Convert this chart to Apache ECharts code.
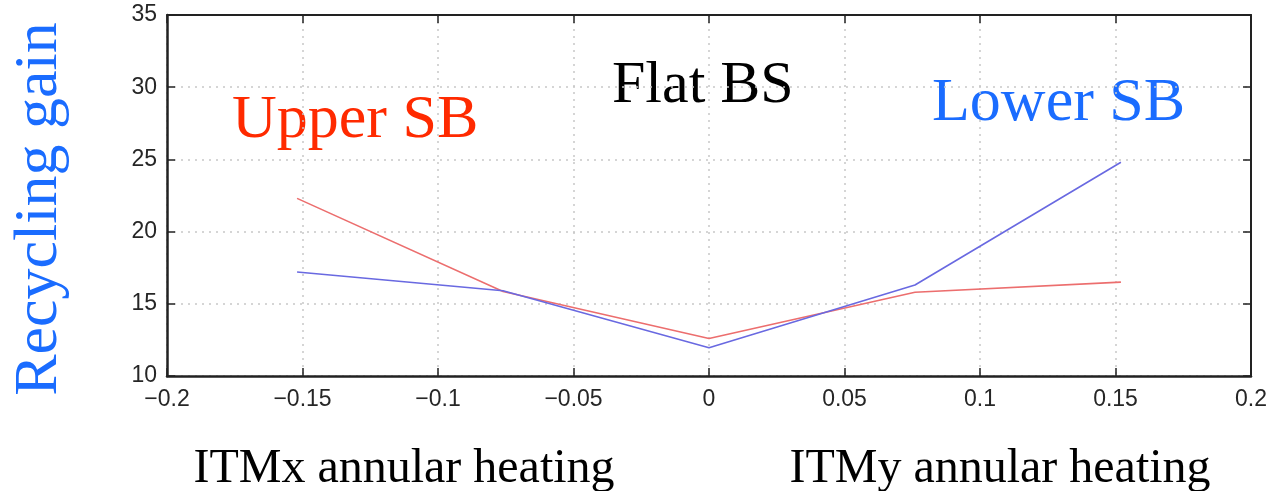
<!DOCTYPE html>
<html>
<head>
<meta charset="utf-8">
<script src="https://cdn.jsdelivr.net/npm/echarts@6/dist/echarts.min.js"></script>
<style>
  html, body { margin: 0; padding: 0; background: #fff; }
  #chart { width: 1270px; height: 491px; }
</style>
</head>
<body>
<div id="chart"></div>
<script>
// Heating offsets (x) at which the recycling gain was evaluated
const heating = [-0.152, -0.076, 0, 0.076, 0.152];
// Recycling gain for each sideband
const upperSB = [22.3, 15.85, 12.6, 15.8, 16.5];
const lowerSB = [17.2, 15.9, 11.95, 16.3, 24.8];
// Axis ranges and tick steps
const xRange = [-0.2, 0.2], xStep = 0.05;
const yRange = [10, 35], yStep = 5;

const serif = '"Liberation Serif", "Times New Roman", serif';
const sans = '"Liberation Sans", Arial, sans-serif';

const pairs = (ys) => heating.map((x, i) => [x, ys[i]]);
const fmtTick = (v) => {
  const s = (Math.round(v * 1000) / 1000).toString();
  return s.replace('-', '\u2212');
};

const frameLine = { show: true, onZero: false, lineStyle: { color: '#222', width: 2.5 } };
const frameTick = { show: true, inside: true, length: 8, lineStyle: { color: '#222', width: 1.5 } };
const gridLine = { show: true, lineStyle: { color: '#c8c8c8', type: [2, 5], width: 1.5 } };
const tickFont = { color: '#262626', fontFamily: sans, fontSize: 23 };

const chart = echarts.init(document.getElementById('chart'));
chart.setOption({
  animation: false,
  backgroundColor: '#fff',
  grid: { left: 167, right: 12, top: 15, bottom: 115, containLabel: false },
  xAxis: [
    {
      type: 'value', position: 'bottom', min: xRange[0], max: xRange[1], interval: xStep,
      axisLine: frameLine, axisTick: frameTick,
      axisLabel: Object.assign({ margin: 12, formatter: fmtTick }, tickFont),
      splitLine: gridLine
    },
    {
      type: 'value', position: 'top', min: xRange[0], max: xRange[1], interval: xStep,
      axisLine: { show: true, onZero: false, lineStyle: { color: '#222', width: 2 } },
      axisTick: frameTick, axisLabel: { show: false }, splitLine: { show: false }
    }
  ],
  yAxis: [
    {
      type: 'value', position: 'left', min: yRange[0], max: yRange[1], interval: yStep,
      axisLine: frameLine, axisTick: frameTick,
      axisLabel: Object.assign({ margin: 10 }, tickFont),
      splitLine: gridLine
    },
    {
      type: 'value', position: 'right', min: yRange[0], max: yRange[1], interval: yStep,
      axisLine: { show: true, onZero: false, lineStyle: { color: '#222', width: 2 } },
      axisTick: frameTick, axisLabel: { show: false }, splitLine: { show: false }
    }
  ],
  series: [
    {
      name: 'Upper SB', type: 'line', data: pairs(upperSB),
      symbol: 'none', lineStyle: { color: 'rgb(236,110,110)', width: 1.6 }, z: 3
    },
    {
      name: 'Lower SB', type: 'line', data: pairs(lowerSB),
      symbol: 'none', lineStyle: { color: 'rgb(105,105,225)', width: 1.6 }, z: 4
    }
  ],
  graphic: [
    { type: 'text', left: 612, top: 56,
      style: { text: 'Flat BS', fill: '#000', font: '60px ' + serif } },
    { type: 'text', left: 232, top: 90,
      style: { text: 'Upper SB', fill: '#ff2a00', font: '62px ' + serif } },
    { type: 'text', left: 932, top: 73,
      style: { text: 'Lower SB', fill: '#1a6cff', font: '62px ' + serif } },
    { type: 'text', x: 40, y: 209, rotation: Math.PI / 2,
      style: { text: 'Recycling gain', fill: '#1a6cff', font: '62px ' + serif,
               align: 'center', verticalAlign: 'middle' } },
    { type: 'text', x: 404, y: 469,
      style: { text: 'ITMx annular heating', fill: '#000', font: '48px ' + serif,
               align: 'center', verticalAlign: 'middle' } },
    { type: 'text', x: 1000, y: 469,
      style: { text: 'ITMy annular heating', fill: '#000', font: '48px ' + serif,
               align: 'center', verticalAlign: 'middle' } }
  ]
});
</script>
</body>
</html>
